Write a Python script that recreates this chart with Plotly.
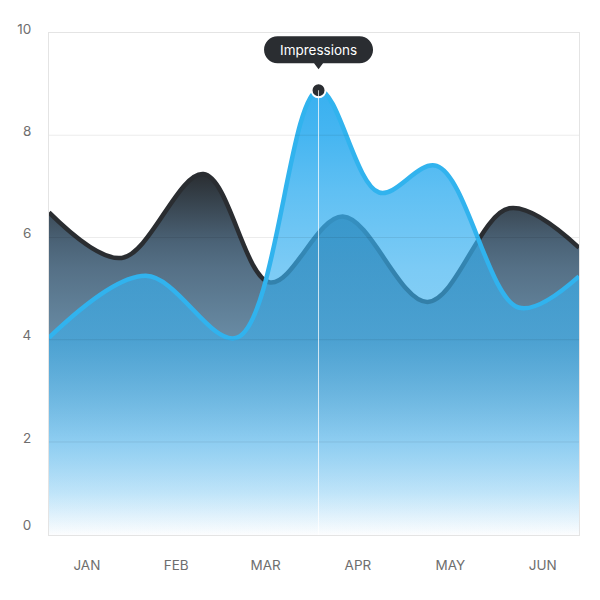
import plotly.graph_objects as go

FONT = "Inter"
DARK = "#2a2d31"
BLUE = "#31b3ee"
GRID = "rgba(0,0,0,0.08)"
BORDER = "#e4e4e4"
LABEL = "#6e6e6e"

# ── Data ─────────────────────────────────────────────────────────────────────
dark_x = ["2023-01-04", "2023-01-28", "2023-02-24", "2023-03-18",
          "2023-04-11", "2023-05-09", "2023-06-05", "2023-06-28"]
dark_y = [6.49, 5.60, 7.24, 5.12, 6.41, 4.74, 6.57, 5.80]

blue_x = ["2023-01-04", "2023-02-05", "2023-03-07", "2023-04-03",
          "2023-04-23", "2023-05-12", "2023-06-08", "2023-06-28"]
blue_y = [4.04, 5.25, 4.04, 8.88, 6.88, 7.40, 4.63, 5.24]
blue_name = "Impressions"

# month labels sit in the middle of each month
month_ticks = ["2023-01-16 12:00", "2023-02-15", "2023-03-16 12:00",
               "2023-04-16", "2023-05-16 12:00", "2023-06-16"]
month_labels = ["JAN", "FEB", "MAR", "APR", "MAY", "JUN"]

Y_MIN, Y_MAX = 0.18, 10
y_ticks = [0.3, 2, 4, 6, 8, 10]      # "0" label is drawn just above the bottom edge
y_labels = ["0", "2", "4", "6", "8", "10"]
grid_vals = [2, 4, 6, 8]

# ── Fill gradients ───────────────────────────────────────────────────────────
dark_scale = [
    [0.00, "rgb(252,253,254)"],
    [0.116, "rgb(250,251,253)"],
    [0.258, "rgb(212,229,242)"],
    [0.541, "rgb(105,140,165)"],
    [0.74, "rgb(85,112,134)"],
    [0.81, "rgb(75,99,119)"],
    [1.00, "rgb(42,46,50)"],
]
blue_scale = [
    [0.00, "rgba(56,176,240,0.0)"],
    [0.094, "rgba(56,176,240,0.30)"],
    [0.209, "rgba(56,176,240,0.45)"],
    [0.439, "rgba(56,176,240,0.59)"],
    [0.60, "rgba(56,176,240,0.66)"],
    [0.772, "rgba(56,176,240,0.80)"],
    [0.90, "rgba(56,176,240,0.93)"],
    [1.00, "rgba(56,176,240,1.0)"],
]

fig = go.Figure()
fig.add_trace(go.Scatter(
    x=dark_x, y=dark_y, mode="lines", name="Clicks",
    line=dict(color=DARK, width=4.5, shape="spline", smoothing=1),
    fill="tozeroy",
    fillgradient=dict(type="vertical", colorscale=dark_scale,
                      start=Y_MIN, stop=max(dark_y)),
    hoverinfo="skip",
))
fig.add_trace(go.Scatter(
    x=blue_x, y=blue_y, mode="lines", name=blue_name,
    line=dict(color=BLUE, width=4.5, shape="spline", smoothing=1),
    fill="tozeroy",
    fillgradient=dict(type="vertical", colorscale=blue_scale,
                      start=Y_MIN, stop=max(blue_y)),
    hoverinfo="skip",
))

# hovered point: vertical guide + marker
pk = blue_y.index(max(blue_y))
px, py = blue_x[pk], blue_y[pk]

shapes = [
    dict(type="line", xref="paper", yref="y", x0=0, x1=1, y0=v, y1=v,
         line=dict(color=GRID, width=1), layer="above")
    for v in grid_vals
]
shapes.append(dict(type="line", xref="x", yref="y", x0=px, x1=px, y0=Y_MIN, y1=py,
                   line=dict(color="rgba(255,255,255,0.75)", width=1), layer="above"))

# tooltip bubble (pixel offsets from the hovered point)
k = 7.46
tip = (f"M -41,27 L -4.5,27 L 0,21 L 4.5,27 L 41,27 "
       f"C {41+k},27 54.5,{40.5-k} 54.5,40.5 "
       f"C 54.5,{40.5+k} {41+k},54 41,54 L -41,54 "
       f"C {-41-k},54 -54.5,{40.5+k} -54.5,40.5 "
       f"C -54.5,{40.5-k} {-41-k},27 -41,27 Z")
shapes.append(dict(type="path", xref="x", yref="y", xsizemode="pixel", ysizemode="pixel",
                   xanchor=px, yanchor=py, path=tip,
                   fillcolor="#2a2d31", line=dict(width=0), layer="above"))

fig.add_trace(go.Scatter(
    x=[px], y=[py], mode="markers", hoverinfo="skip",
    marker=dict(size=14, color=DARK, line=dict(color="white", width=2)),
))

fig.add_annotation(x=px, y=py, yshift=40.5, text=blue_name, showarrow=False,
                   font=dict(family=FONT, size=13.5, color="white"))

# the page body adds an 8px offset, so margins are shifted to compensate
fig.update_layout(
    width=600, height=600,
    margin=dict(l=41, r=29, t=25, b=73),
    paper_bgcolor="white", plot_bgcolor="white",
    showlegend=False,
    font=dict(family=FONT, size=13.5, color=LABEL),
    shapes=shapes,
    xaxis=dict(type="date", range=[dark_x[0], dark_x[-1]],
               tickvals=month_ticks, ticktext=month_labels,
               showgrid=False, zeroline=False, ticks="",
               showline=True, mirror=True, linecolor=BORDER, linewidth=1,
               ticklabelstandoff=18, layer="above traces", automargin=False),
    yaxis=dict(range=[Y_MIN, Y_MAX], tickvals=y_ticks, ticktext=y_labels,
               showgrid=False, zeroline=False, ticks="",
               showline=True, mirror=True, linecolor=BORDER, linewidth=1,
               ticklabelstandoff=14, ticklabelshift=-4, layer="above traces",
               automargin=False),
)

fig.write_html("out.html")
